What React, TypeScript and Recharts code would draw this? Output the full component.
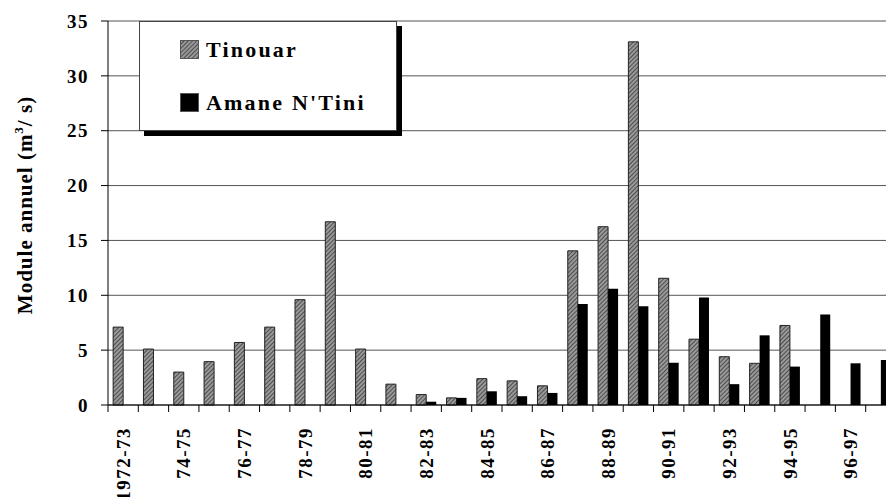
import { BarChart, Bar, XAxis, YAxis, CartesianGrid, Legend } from 'recharts'

const years = [
  '1972-73', '73-74', '74-75', '75-76', '76-77', '77-78', '78-79', '79-80', '80-81', '81-82',
  '82-83', '83-84', '84-85', '85-86', '86-87', '87-88', '88-89', '89-90', '90-91', '91-92',
  '92-93', '93-94', '94-95', '95-96', '96-97', '97-98',
]

const tinouar = [
  7.1, 5.1, 3.0, 3.95, 5.7, 7.1, 9.6, 16.7, 5.1, 1.9,
  0.95, 0.65, 2.4, 2.2, 1.75, 14.05, 16.25, 33.1, 11.55, 6.0,
  4.4, 3.8, 7.25, null, null, null,
]

const amane = [
  null, null, null, null, null, null, null, null, null, null,
  0.3, 0.65, 1.25, 0.8, 1.1, 9.2, 10.6, 9.0, 3.85, 9.8,
  1.9, 6.35, 3.5, 8.25, 3.8, 4.1,
]

const seriesNames = ['Tinouar', "Amane N'Tini"]
const yTicks = [0, 5, 10, 15, 20, 25, 30, 35]

const data = years.map((year, i) => ({ year, tinouar: tinouar[i], amane: amane[i] }))

const FONT = "'Liberation Serif', 'DejaVu Serif', serif"
const W = 900
const H = 497
const LEFT = 108
const RIGHT = 4
const BAND = (W - LEFT - RIGHT) / years.length

function XTick({ x, y, payload, index }: any) {
  const bx = x - BAND / 2
  return (
    <g>
      <line x1={bx} x2={bx} y1={y} y2={y + 7} stroke="#000" />
      {index % 2 === 0 && (
        <text
          transform={`translate(${x},${y + 22}) rotate(-90)`}
          textAnchor="end"
          dy="0.35em"
          style={{ fontFamily: FONT, fontWeight: 'bold', fontSize: 19, letterSpacing: 1.5 }}
          fill="#000"
        >
          {payload.value}
        </text>
      )}
    </g>
  )
}

function YTitle() {
  return (
    <text
      transform="translate(32,205) rotate(-90)"
      textAnchor="middle"
      style={{ fontFamily: FONT, fontWeight: 'bold', fontSize: 21, letterSpacing: 1 }}
      fill="#000"
    >
      Module annuel (m
      <tspan fontSize={13} dy={-9}>3</tspan>
      <tspan dy={9}>/ s)</tspan>
    </text>
  )
}

function LegendBox({ payload }: any) {
  const items = (payload || []).slice().sort(
    (a: any, b: any) => seriesNames.indexOf(a.value) - seriesNames.indexOf(b.value)
  )
  return (
    <div
      style={{
        position: 'relative',
        width: 258,
        height: 110,
        boxSizing: 'border-box',
        border: '1px solid #444',
        background: '#fff',
        boxShadow: '5px 5px 0 #000',
        fontFamily: FONT,
      }}
    >
      {items.map((entry: any, i: number) => (
        <div key={entry.value} style={{ position: 'absolute', left: 40, top: 18 + i * 53, display: 'flex', alignItems: 'center' }}>
          <svg width={20} height={20} style={{ display: 'block' }}>
            <rect x={0.5} y={0.5} width={18} height={18} fill={entry.color} stroke="#555" />
          </svg>
          <span style={{ marginLeft: 6, fontWeight: 'bold', fontSize: 22, letterSpacing: 2.2, color: '#000', lineHeight: '20px' }}>
            {entry.value}
          </span>
        </div>
      ))}
    </div>
  )
}

export default function App() {
  return (
    <div style={{ position: 'absolute', left: 0, top: 0, width: 886, height: 497, overflow: 'hidden', background: '#fff' }}>
      <BarChart
        width={W}
        height={H}
        data={data}
        margin={{ top: 21, right: RIGHT, left: 0, bottom: 0 }}
        barCategoryGap="17%"
        barGap={0}
      >
        <defs>
          <pattern id="hatch" patternUnits="userSpaceOnUse" width={3} height={3} patternTransform="rotate(45)">
            <rect width={3} height={3} fill="#999" />
            <line x1={0} y1={0} x2={0} y2={3} stroke="#1a1a1a" strokeWidth={1.2} />
          </pattern>
        </defs>
        <CartesianGrid vertical={false} stroke="#555" />
        <XAxis
          dataKey="year"
          height={92}
          interval={0}
          tickLine={false}
          tickSize={0}
          tickMargin={0}
          axisLine={{ stroke: '#000' }}
          tick={<XTick />}
        />
        <YAxis
          width={LEFT}
          domain={[0, 35]}
          ticks={yTicks}
          tickSize={7}
          tickMargin={12}
          axisLine={{ stroke: '#000' }}
          tickLine={{ stroke: '#000' }}
          tick={{ fill: '#000', fontFamily: FONT, fontWeight: 'bold', fontSize: 19, letterSpacing: 1.5 }}
          label={<YTitle />}
        />
        <Legend
          layout="vertical"
          align="center"
          verticalAlign="middle"
          wrapperStyle={{ position: 'absolute', left: 139, top: 21, width: 258, height: 110 }}
          content={<LegendBox />}
        />
        <Bar dataKey="tinouar" name={seriesNames[0]} fill="url(#hatch)" stroke="#222" strokeWidth={1} isAnimationActive={false} />
        <Bar dataKey="amane" name={seriesNames[1]} fill="#000" isAnimationActive={false} />
      </BarChart>
    </div>
  )
}
